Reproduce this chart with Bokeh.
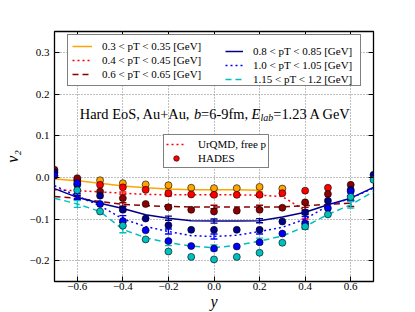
from bokeh.plotting import figure
from bokeh.models import (FixedTicker, CustomJSTickFormatter, LinearAxis, Legend,
                          LegendItem, Label, Range1d, CustomLabelingPolicy)
from bokeh.embed import file_html
from bokeh.resources import INLINE

# ---------------- data ----------------
rapidity = [-0.7, -0.6, -0.5, -0.4, -0.3, -0.2, -0.1, 0.0, 0.1, 0.2, 0.3, 0.4, 0.5, 0.6, 0.7]

# UrQMD (lines)
urqmd_pt030 = [-0.004, -0.008, -0.014, -0.021, -0.025, -0.028, -0.030, -0.030, -0.030, -0.031]
urqmd_pt040 = [-0.030, -0.032, -0.035, -0.038, -0.041, -0.042, -0.042, -0.042, -0.042, -0.043, -0.046, -0.080]
urqmd_pt060 = [-0.046, -0.050, -0.058, -0.065, -0.068, -0.070, -0.071, -0.071, -0.071, -0.071, -0.071, -0.068, -0.065, -0.062]
urqmd_pt080 = [-0.027, -0.048, -0.062, -0.075, -0.090, -0.098, -0.104, -0.105, -0.105, -0.104, -0.095, -0.084, -0.066, -0.050, -0.024]
urqmd_pt100 = [-0.020, -0.045, -0.068, -0.100, -0.118, -0.130, -0.140, -0.142, -0.139, -0.130, -0.120, -0.100, -0.068, -0.050, -0.026]
urqmd_pt115 = [-0.050, -0.064, -0.082, -0.125, -0.145, -0.157, -0.165, -0.169, -0.163, -0.153, -0.141, -0.118, -0.089, -0.066, -0.034]

# UrQMD statistical errors (shown every 0.2 in rapidity)
err_rapidity = [-0.6, -0.4, -0.2, 0.0, 0.2, 0.4, 0.6]
urqmd_err_pt030 = [0.003, 0.003, 0.003, 0.003, 0.003]
urqmd_err_pt040 = [0.003, 0.003, 0.003, 0.003, 0.003, 0.020]
urqmd_err_pt060 = [0.004, 0.004, 0.004, 0.004, 0.004, 0.004, 0.008]
urqmd_err_pt080 = [0.005, 0.005, 0.005, 0.005, 0.005, 0.005, 0.006]
urqmd_err_pt100 = [0.006, 0.008, 0.006, 0.006, 0.006, 0.006, 0.006]
urqmd_err_pt115 = [0.008, 0.008, 0.007, 0.007, 0.007, 0.007, 0.008]

# HADES (points); None = no point
hades_pt030 = [None, None, -0.007, -0.014, -0.017, -0.019, -0.025, -0.026, -0.026, -0.023, -0.027, None, None, None, None]
hades_pt040 = [None, -0.007, -0.018, -0.024, -0.030, -0.038, -0.041, -0.042, -0.042, -0.042, -0.038, -0.032, -0.025, None, None]
hades_pt060 = [0.018, -0.002, -0.034, -0.050, -0.064, -0.072, -0.078, -0.082, -0.080, -0.078, -0.073, -0.060, -0.040, -0.018, None]
hades_pt080 = [0.012, -0.018, -0.044, -0.078, -0.099, -0.115, -0.126, -0.126, -0.126, -0.126, -0.106, -0.084, -0.056, -0.030, 0.006]
hades_pt100 = [0.004, -0.014, -0.064, -0.105, -0.127, -0.153, -0.165, -0.171, -0.166, -0.156, -0.135, -0.111, -0.074, -0.034, None]
hades_pt115 = [None, -0.031, -0.082, -0.116, -0.149, -0.178, -0.191, -0.197, -0.191, -0.181, -0.157, -0.118, -0.089, -0.047, -0.006]

series_labels = ["0.3 < pT < 0.35 [GeV]", "0.4 < pT < 0.45 [GeV]", "0.6 < pT < 0.65 [GeV]",
                 "0.8 < pT < 0.85 [GeV]", "1.0 < pT < 1.05 [GeV]", "1.15 < pT < 1.2 [GeV]"]
x_ticks = [-0.6, -0.4, -0.2, 0.0, 0.2, 0.4, 0.6]
y_ticks = [-0.2, -0.1, 0.0, 0.1, 0.2, 0.3]

# ---------------- styles ----------------
colors = ["#FFA500", "#FF0000", "#8B0000", "#00008B", "#0000FF", "#00BFBF"]
dashes = ["solid", "2 3", "6 4", "solid", "2 3", "6 4"]
FONT = "Liberation Serif"

p = figure(width=410, height=312, x_range=Range1d(-0.7, 0.7), y_range=Range1d(-0.25, 0.35),
           output_backend="svg", toolbar_location=None,
           min_border_left=52, min_border_right=37, min_border_top=31, min_border_bottom=31)
p.background_fill_color = "white"
p.border_fill_color = "white"
p.outline_line_color = "black"
p.outline_line_width = 1.3

fmt = CustomJSTickFormatter(code="return tick.toFixed(1).replace('-', '\u2212');")
for ax, ticks in ((p.xaxis[0], x_ticks), (p.yaxis[0], y_ticks)):
    ax.ticker = FixedTicker(ticks=ticks)
    ax.formatter = fmt
    ax.major_tick_in = 5
    ax.major_tick_out = 0
    ax.minor_tick_line_color = None
    ax.axis_line_color = None
    ax.major_tick_line_color = "black"
    ax.major_label_text_font = FONT
    ax.major_label_text_font_size = "11px"
    ax.major_label_text_color = "black"
    ax.axis_label_text_font = FONT
    ax.axis_label_text_font_style = "italic"
    ax.axis_label_text_font_size = "16px"
    ax.axis_label_text_color = "black"
p.xaxis[0].axis_label = "y"
p.xaxis[0].major_label_standoff = 1
p.xaxis[0].axis_label_standoff = 0
p.yaxis[0].axis_label = "v₂"
p.yaxis[0].major_label_standoff = 5
p.yaxis[0].axis_label_standoff = 6

no_labels = CustomLabelingPolicy(code="""
for (let i = 0; i < indices.size; i++) { indices.unset(i) }
return indices
""")
for loc, ticks in (("above", x_ticks), ("right", y_ticks)):
    ax = LinearAxis(ticker=FixedTicker(ticks=ticks), major_tick_in=5, major_tick_out=0,
                    minor_tick_line_color=None, axis_line_color=None,
                    major_label_policy=no_labels, major_label_standoff=0)
    p.add_layout(ax, loc)

for g in (p.xgrid[0], p.ygrid[0]):
    g.grid_line_color = "#7f7f7f"
    g.grid_line_dash = "1 2"
    g.grid_line_width = 1

lines = [urqmd_pt030, urqmd_pt040, urqmd_pt060, urqmd_pt080, urqmd_pt100, urqmd_pt115]
errs = [urqmd_err_pt030, urqmd_err_pt040, urqmd_err_pt060, urqmd_err_pt080, urqmd_err_pt100, urqmd_err_pt115]
hades = [hades_pt030, hades_pt040, hades_pt060, hades_pt080, hades_pt100, hades_pt115]

line_renderers = []
for vals, er, c, d in zip(lines, errs, colors, dashes):
    xs = rapidity[:len(vals)]
    r = p.line(xs, vals, line_color=c, line_width=1.5, line_dash=d)
    line_renderers.append(r)
    ex, ey, ee = [], [], []
    for xe, e in zip(err_rapidity, er):
        if xe in xs:
            ex.append(xe)
            ey.append(vals[xs.index(xe)])
            ee.append(e)
    lo = [a - b for a, b in zip(ey, ee)]
    hi = [a + b for a, b in zip(ey, ee)]
    p.segment(ex, lo, ex, hi, line_color=c, line_width=1.3)
    p.scatter(ex, lo, marker="dash", size=7, line_color=c, line_width=1.3)
    p.scatter(ex, hi, marker="dash", size=7, line_color=c, line_width=1.3)

point_renderers = []
for vals, c in zip(hades, colors):
    xs = [x for x, v in zip(rapidity, vals) if v is not None]
    ys = [v for v in vals if v is not None]
    r = p.scatter(xs, ys, marker="circle", size=7, fill_color=c, line_color="black", line_width=0.6)
    point_renderers.append(r)


def style_legend(lg):
    lg.label_text_font = FONT
    lg.label_text_font_size = "11px"
    lg.label_text_color = "black"
    lg.spacing = 0
    lg.margin = 0
    lg.label_height = 14
    lg.glyph_height = 14


# first legend: box with column 1, column 2 overlaid without border
leg1a = Legend(items=[LegendItem(label=lab, renderers=[r])
                      for lab, r in zip(series_labels[:3], line_renderers[:3])],
               location=(13, 195), padding=4, glyph_width=20, label_standoff=10, label_width=254,
               border_line_color="black", border_line_width=1.2, background_fill_alpha=1.0)
leg1b = Legend(items=[LegendItem(label=lab, renderers=[r])
                      for lab, r in zip(series_labels[3:], line_renderers[3:])],
               location=(171, 195), padding=4, glyph_width=18, label_standoff=10,
               border_line_color=None, background_fill_alpha=0.0)
leg2 = Legend(items=[LegendItem(label="UrQMD, free p", renderers=[line_renderers[1]]),
                     LegendItem(label="HADES", renderers=[point_renderers[1]])],
              location=(109, 113), padding=2, glyph_width=20, label_standoff=12,
              border_line_color="black", border_line_width=1.2, background_fill_alpha=1.0)
for lg in (leg1a, leg1b, leg2):
    style_legend(lg)
    p.add_layout(lg, "center")

# annotation pieces: (text, x pixel offset, y pixel offset, size, style)
ann_x, ann_y = -0.589, 0.153
pieces = [("Hard EoS, Au+Au, ", 0, 0, "14.4px", "normal"),
          ("b", 114.1, 0, "14.4px", "italic"),
          ("=6-9fm, ", 121.3, 0, "14.4px", "normal"),
          ("E", 171.8, 0, "14.4px", "italic"),
          ("lab", 180.6, -4, "10px", "italic"),
          ("=1.23 A GeV", 193.5, 0, "14.4px", "normal")]
for t, xo, yo, fs, st in pieces:
    p.add_layout(Label(x=ann_x, y=ann_y, text=t, x_offset=xo, y_offset=yo, text_font=FONT,
                       text_font_size=fs, text_font_style=st, text_color="black",
                       text_baseline="alphabetic"))

open("out.html", "w").write(file_html(p, INLINE))
